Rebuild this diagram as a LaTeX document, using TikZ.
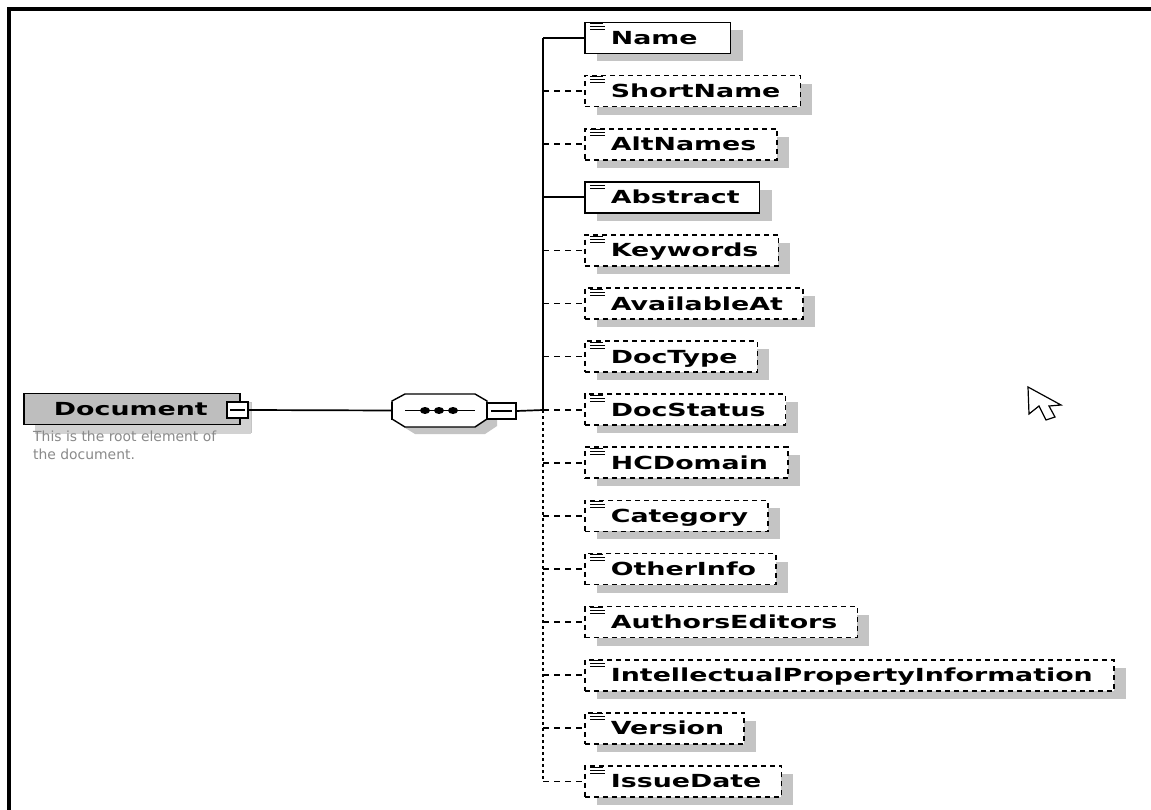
\documentclass[tikz,border=0pt]{standalone}
\usepackage{fontspec}
\newfontfamily\elfont{DejaVu Sans}[FakeStretch=1.49]
\newfontfamily\descfont{DejaVu Sans}
\usetikzlibrary{shadows,calc}
\definecolor{shadowgray}{HTML}{C4C4C4}
\definecolor{docgray}{HTML}{BEBEBE}
\definecolor{docshadow}{HTML}{D2D2D2}
\definecolor{desctext}{HTML}{8A8A8A}
\tikzset{
  elbase/.style={draw, line width=1.7pt, fill=white, anchor=west,
    minimum height=31pt, inner xsep=0pt, inner ysep=0pt,
    text height=13pt, text depth=0pt,
    font=\elfont\bfseries\fontsize{18}{21}\selectfont,
    drop shadow={shadow xshift=12pt, shadow yshift=-8pt, fill=shadowgray, opacity=1}},
  elreq/.style={elbase},
  elopt/.style={elbase, dash pattern=on 5pt off 4pt},
  elreq line/.style={line width=1.7pt},
  elopt line/.style={line width=1.7pt, dash pattern=on 6pt off 5pt},
  icon/.style={line width=1pt},
  conn/.style={line width=1.7pt},
  trunkdot/.style={line width=1.8pt, dash pattern=on 3pt off 3pt},
  minusbox/.style={draw, line width=1.4pt, fill=white, minimum width=21pt,
    minimum height=16pt, inner sep=0pt},
}
\begin{document}
\begin{tikzpicture}[x=1pt,y=-1pt]
\useasboundingbox (0,0) rectangle (1151,810);
\fill[white] (0,0) rectangle (1151,810);
% window frame
\fill[black] (7,7) rectangle (1151,11);
\fill[black] (7,7) rectangle (10.5,810);

% root element
\node[elbase, fill=docgray, minimum width=216pt,
  drop shadow={shadow xshift=11pt, shadow yshift=-9pt, fill=docshadow, opacity=1}]
  (doc) at (23,409) {\kern29pt Document\kern31pt};
\node[minusbox] (docm) at (237.5,410) {};
\draw[line width=1.4pt] ($(docm.west)+(4,0)$) -- ($(docm.east)+(-4,0)$);
\node[anchor=north west, inner sep=0pt, align=left, text=desctext,
  font=\descfont\fontsize{13.9}{18}\selectfont] (desc) at (33,431)
  {This is the root element of\\the document.};

% sequence compositor
\node[minimum width=95pt, minimum height=33pt, inner sep=0pt] (seq) at (439.5,410.5) {};
\fill[shadowgray] ($(seq.center)+(-47.5,-9.5)+(10,7)$) -- ++(13,-7) -- ++(70,0) -- ++(12,7)
  -- ++(0,18) -- ++(-12,8) -- ++(-70,0) -- ++(-13,-8) -- cycle;
\draw[line width=1.4pt, fill=white] ($(seq.center)+(-47.5,-9.5)$) -- ++(13,-7) -- ++(70,0) -- ++(12,7)
  -- ++(0,18) -- ++(-12,8) -- ++(-70,0) -- ++(-13,-8) -- cycle;
\draw[line width=2.2pt] ($(seq.west)+(0,-9)$) -- ($(seq.west)+(0,9)$);
\draw[line width=1.4pt] ($(seq.center)+(-34.5,0)$) -- ($(seq.center)+(35.5,0)$);
\foreach \dx in {-14.5,-0.5,13.5}
  \fill ($(seq.center)+(\dx,0)$) ellipse [x radius=5pt, y radius=3.5pt];
\node[minusbox, minimum width=29pt] (seqm) at (501.5,411) {};
\draw[line width=1.4pt] ($(seqm.west)+(5,0)$) -- ($(seqm.east)+(-5,0)$);
\coordinate (junc) at (543,410);

\draw[conn] (docm.east) -- (seq.west);
\draw[conn] (seqm.east) -- (junc);

% children
\foreach \lab/\kind/\rp [count=\i from 0] in {
  Name/elreq/33, ShortName/elopt/20, AltNames/elopt/21, Abstract/elreq/20,
  Keywords/elopt/20, AvailableAt/elopt/20, DocType/elopt/20, DocStatus/elopt/20,
  HCDomain/elopt/20, Category/elopt/20, OtherInfo/elopt/20,
  AuthorsEditors/elopt/20, IntellectualPropertyInformation/elopt/21,
  Version/elopt/20, IssueDate/elopt/20}{
  \pgfmathsetmacro\yy{38+53.1*\i}
  \coordinate (t\i) at (543,\yy);
  \node[\kind] (e\i) at (584,\yy) {\kern26pt\lab\kern\rp pt};
  \draw[icon] ($(e\i.north west)+(6,2)$) -- ++(13,0);
  \draw[icon] ($(e\i.north west)+(6,5)$) -- ++(15,0);
  \draw[icon] ($(e\i.north west)+(6,8)$) -- ++(15,0);
  \draw[\kind\space line] (t\i) -- (e\i.west);
}
% trunk
\draw[conn] (t0) -- (junc);
\draw[trunkdot] (junc) -- (t14);

% mouse pointer
\draw[line width=1.2pt, fill=white, line join=miter] (1028,387) -- (1029,414) -- (1039,406)
  -- (1046,420) -- (1055,417) -- (1049,406) -- (1061,405) -- cycle;
\end{tikzpicture}
\end{document}
